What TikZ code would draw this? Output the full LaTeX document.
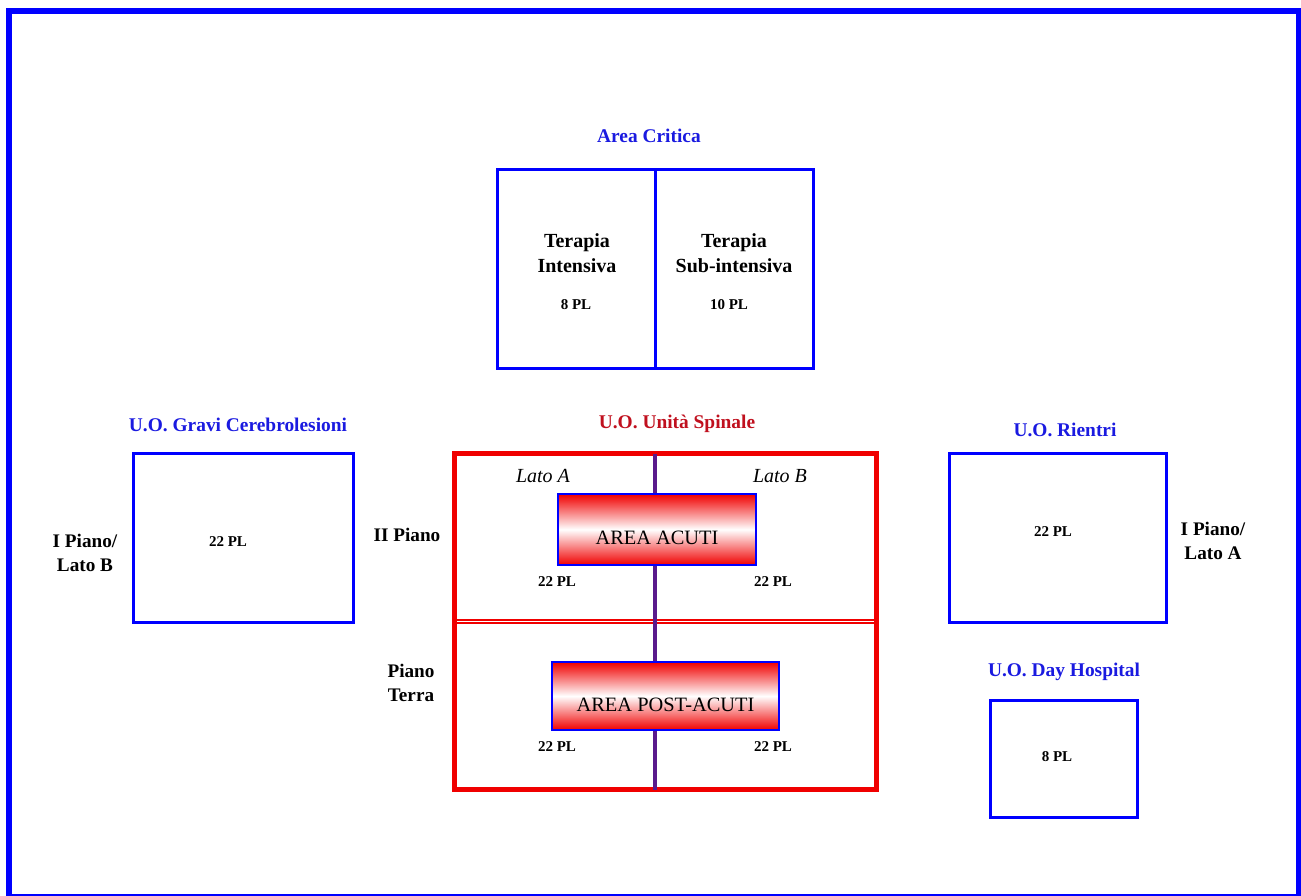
\documentclass[tikz,border=0pt]{standalone}
\usepackage{fontspec}
\setmainfont{Liberation Serif}
\usepackage{tikz}
\usetikzlibrary{
  positioning,
  calc,
  backgrounds
}
\definecolor{ucBlue}{HTML}{0000FF}
\definecolor{ucTitle}{HTML}{1A1AE0}
\definecolor{ucRed}{HTML}{F00000}
\definecolor{ucDarkRed}{HTML}{C0101E}
\definecolor{ucSpine}{HTML}{5A1A8C}
\tikzset{
  ucnode/.style={
    minimum height=10mm, minimum width=18mm, inner sep=0pt, outer sep=0pt
  },
  unitbox/.style={ucnode, draw=ucBlue, line width=1.5pt},
  floorbox/.style={ucnode, draw=ucRed, line width=1.1pt},
  spinalbox/.style={ucnode, draw=ucRed, line width=2.6pt},
  areabox/.style={
    ucnode, draw=ucBlue, line width=0.6pt,
    top color=ucRed, bottom color=ucRed, middle color=white,
    font=\fontsize{10.2}{12}\selectfont, text height=15pt, text depth=0pt
  },
  uotitle/.style={font=\fontsize{9.7}{11.5}\selectfont\bfseries, text=ucTitle},
  wardtext/.style={font=\fontsize{10}{12.5}\selectfont\bfseries, align=center},
  bedtag/.style={font=\fontsize{7.5}{9}\selectfont\bfseries},
  floortag/.style={font=\fontsize{9.6}{12}\selectfont\bfseries, align=center},
  sidetag/.style={font=\fontsize{10}{12}\selectfont\itshape},
  spine/.style={draw=ucSpine, line width=1.6pt},
  frame/.style={draw=ucBlue, line width=3pt}
}

\begin{document}
\begin{tikzpicture}[x=0.5pt, y=-0.5pt]
  \useasboundingbox (0,0) rectangle (1301,895);
  \draw[frame] (9,11) rectangle (1299,897);

  % Area Critica
  \node[unitbox, minimum width=79pt, minimum height=99.5pt] (ti) at (576,268.5) {};
  \node[unitbox, minimum width=79pt, minimum height=99.5pt] (tsi) at (734,268.5) {};
  \node[uotitle] (critica) at (649,136) {Area Critica};
  \node[wardtext] (tiname) at (577,253) {Terapia\\Intensiva};
  \node[wardtext] (tsiname) at (734,253) {Terapia\\Sub-intensiva};
  \node[bedtag] (tipl) at (576,305) {8 PL};
  \node[bedtag] (tsipl) at (729,305) {10 PL};

  % U.O. Gravi Cerebrolesioni
  \node[unitbox, minimum width=110pt, minimum height=84.5pt] (gravi) at (243,537.5) {};
  \node[uotitle] (gravititle) at (238,425) {U.O. Gravi Cerebrolesioni};
  \node[bedtag] (gravipl) at (228,542) {22 PL};
  \node[floortag] (gravifloor) at (85,553) {I Piano/\\Lato B};

  % U.O. Unita Spinale
  \node[floorbox, minimum width=210pt, minimum height=82.5pt] (secondo) at (666,537.5) {};
  \node[floorbox, minimum width=210pt, minimum height=82.5pt] (terra) at (666,705.5) {};
  \node[spinalbox, minimum width=211pt, minimum height=168pt] (spinale) at (665.5,621.5) {};
  \draw[spine] (spinale.north -| 655,0) -- (spinale.south -| 655,0);
  \node[uotitle, text=ucDarkRed] (spinaletitle) at (677,424) {U.O. Unità Spinale};
  \node[sidetag] (latoa) at (543,476) {Lato A};
  \node[sidetag] (latob) at (780,476) {Lato B};
  \node[areabox, minimum width=99pt, minimum height=35.5pt] (acuti) at (657,529.5) {AREA ACUTI};
  \node[areabox, minimum width=113.5pt, minimum height=34pt] (postacuti) at (665.5,696) {AREA POST-ACUTI};
  \node[bedtag] (acutipla) at (557,582) {22 PL};
  \node[bedtag] (acutiplb) at (773,582) {22 PL};
  \node[bedtag] (postpla) at (557,747) {22 PL};
  \node[bedtag] (postplb) at (773,747) {22 PL};
  \node[floortag] (piano2) at (407,535) {II Piano};
  \node[floortag] (pianot) at (411,683) {Piano\\Terra};

  % U.O. Rientri
  \node[unitbox, minimum width=108.5pt, minimum height=84.5pt] (rientri) at (1057.5,537.5) {};
  \node[uotitle] (rientrititle) at (1065,430) {U.O. Rientri};
  \node[bedtag] (rientripl) at (1053,532) {22 PL};
  \node[floortag] (rientrifloor) at (1213,541) {I Piano/\\Lato A};

  % U.O. Day Hospital
  \node[unitbox, minimum width=73.5pt, minimum height=58.5pt] (day) at (1063.5,758.5) {};
  \node[uotitle] (daytitle) at (1064,672) {U.O. Day Hospital};
  \node[bedtag] (daypl) at (1057,757) {8 PL};
\end{tikzpicture}
\end{document}
